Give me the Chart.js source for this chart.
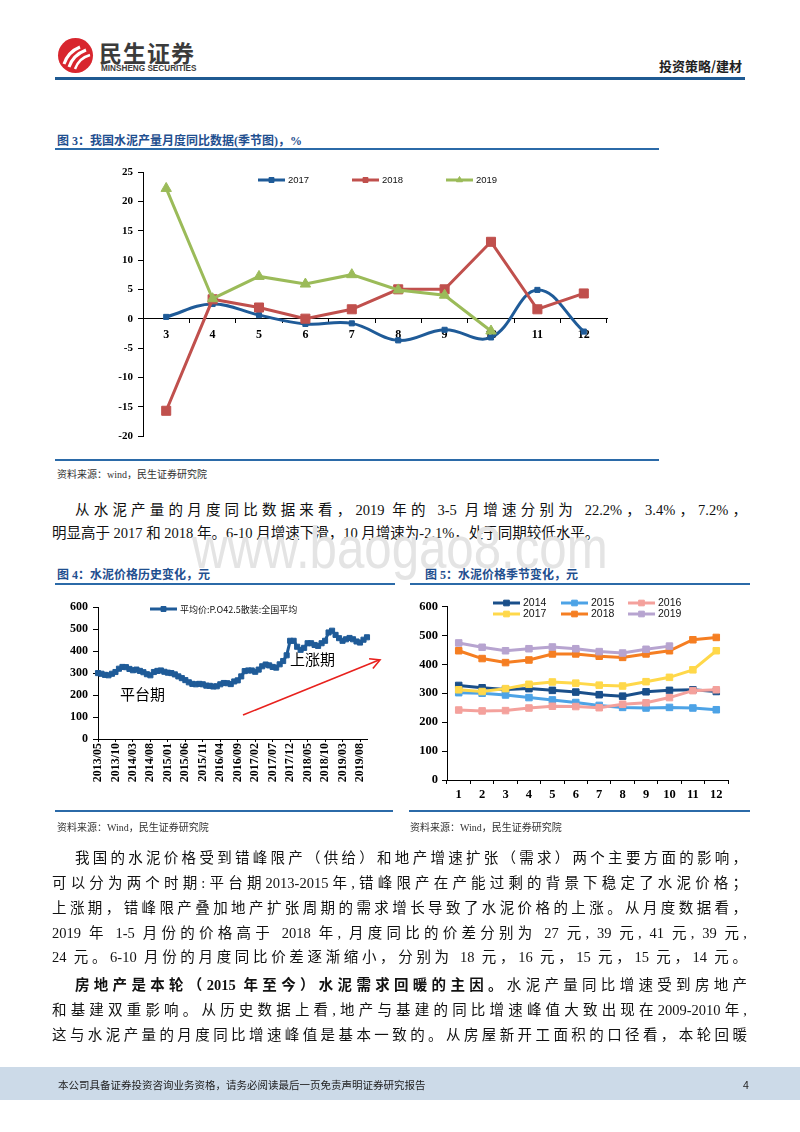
<!DOCTYPE html>
<html lang="zh">
<head>
<meta charset="UTF-8">
<title>水泥产量与价格</title>
<script src="https://cdn.jsdelivr.net/npm/chart.js"></script>
<style>
    body { margin: 0; background: #fff; }
    #page { position: relative; width: 800px; height: 1132px; overflow: hidden; background: #fff;
        font-family: "Liberation Serif", "Noto Sans CJK SC", serif; color: #111; }
    .abs { position: absolute; white-space: nowrap; }
    .rule { position: absolute; background: #2B6AA8; height: 1.5px; }
    .fig-title { position: absolute; font-size: 12px; font-weight: bold; color: #1F4F8F; line-height: 14px; white-space: nowrap; }
    .src { position: absolute; font-size: 10px; color: #333; line-height: 12px; white-space: nowrap; }
    .ln { position: absolute; font-size: 14.5px; line-height: 20px; text-align: justify; text-align-last: justify; white-space: normal; }
    .ln.last { text-align-last: left; }
    .box { position: absolute; }
</style>
</head>
<body>
<div id="page">
    <!-- header -->
    <svg class="abs" style="left:56px;top:36px" width="40" height="40" viewBox="0 0 40 40">
        <circle cx="19.5" cy="19.5" r="17.5" fill="#D8262E"/>
        <path d="M8,28 Q12,16 24,11" stroke="#fff" stroke-width="3" fill="none"/>
        <path d="M13,31 Q17,19 30,14" stroke="#fff" stroke-width="3" fill="none"/>
        <path d="M19,33 Q23,22 34,19" stroke="#fff" stroke-width="2.5" fill="none"/>
    </svg>
    <div class="abs" style="left:99px;top:38px;font:bold 23px 'Noto Sans CJK SC';color:#3b3b3b;letter-spacing:1px;line-height:28px">民生证券</div>
    <div class="abs" style="left:101px;top:64px;font:bold 8.2px 'Liberation Sans';color:#3b3b3b;line-height:10px">MINSHENG SECURITIES</div>
    <div class="abs" style="left:659px;top:58px;font:bold 13px 'Noto Sans CJK SC';color:#222;line-height:16px">投资策略/建材</div>
    <div class="rule" style="left:55px;top:77px;width:690px;height:2.5px;background:#1F5A92"></div>

    <!-- figure 3 -->
    <div class="fig-title" style="left:57px;top:134px">图 3：我国水泥产量月度同比数据(季节图)，%</div>
    <div class="rule" style="left:55px;top:148px;width:604px"></div>
    <div class="box" style="left:100px;top:160px;width:540px;height:290px"><canvas id="yoyChart" width="540" height="290"></canvas></div>
    <div class="rule" style="left:55px;top:459px;width:604px"></div>
    <div class="src" style="left:57px;top:469px">资料来源：wind，民生证券研究院</div>

    <div class="ln" style="left:75px;top:500px;width:672px">从水泥产量的月度同比数据来看，2019 年的 3-5 月增速分别为 22.2%，3.4%，7.2%，</div>
    <div class="ln last" style="left:52px;top:523px;width:695px">明显高于 2017 和 2018 年。6-10 月增速下滑，10 月增速为-2.1%，处于同期较低水平。</div>

    <!-- watermark -->
    <div class="abs" style="left:192px;top:517px;font:60px/62px 'Liberation Sans';color:#e4e4e4;transform:scaleX(0.82);transform-origin:left top;z-index:0">www.baogao8.com</div>

    <!-- figure 4 / 5 -->
    <div class="fig-title" style="left:57px;top:568px">图 4：水泥价格历史变化，元</div>
    <div class="fig-title" style="left:425px;top:568px">图 5：水泥价格季节变化，元</div>
    <div class="rule" style="left:55px;top:583px;width:340px"></div>
    <div class="rule" style="left:410px;top:583px;width:340px"></div>

    <div class="box" style="left:55px;top:595px;width:340px;height:215px"><canvas id="histChart" width="340" height="215"></canvas></div>
    <div class="abs" style="left:120px;top:685px;font:15px/18px 'Noto Sans CJK SC';color:#000">平台期</div>
    <div class="abs" style="left:290px;top:650px;font:15px/18px 'Noto Sans CJK SC';color:#000">上涨期</div>
    <svg class="abs" style="left:0;top:0" width="800" height="1132">
        <line x1="243" y1="715" x2="379" y2="660" stroke="#E8211D" stroke-width="1.6"/>
        <polyline points="369.1,658.8 380,660 372.9,668.4" stroke="#E8211D" stroke-width="1.6" fill="none"/>
    </svg>

    <div class="box" style="left:405px;top:595px;width:345px;height:215px"><canvas id="seasonChart" width="345" height="215"></canvas></div>

    <div class="rule" style="left:55px;top:810px;width:338px"></div>
    <div class="rule" style="left:409px;top:810px;width:341px"></div>
    <div class="src" style="left:57px;top:822px">资料来源：Wind，民生证券研究院</div>
    <div class="src" style="left:410px;top:822px">资料来源：Wind，民生证券研究院</div>

    <!-- body text -->
    <div class="ln" style="left:75px;top:848px;width:672px">我国的水泥价格受到错峰限产（供给）和地产增速扩张（需求）两个主要方面的影响，</div>
    <div class="ln" style="left:52px;top:873px;width:695px">可以分为两个时期:平台期2013-2015年,错峰限产在产能过剩的背景下稳定了水泥价格；</div>
    <div class="ln" style="left:52px;top:898px;width:695px">上涨期，错峰限产叠加地产扩张周期的需求增长导致了水泥价格的上涨。从月度数据看，</div>
    <div class="ln" style="left:52px;top:923px;width:695px">2019 年 1-5 月份的价格高于 2018 年, 月度同比的价差分别为 27 元, 39 元, 41 元, 39 元,</div>
    <div class="ln" style="left:52px;top:947px;width:695px">24 元。6-10 月份的月度同比价差逐渐缩小，分别为 18 元，16 元，15 元，15 元，14 元。</div>

    <div class="ln" style="left:75px;top:975px;width:672px"><b>房地产是本轮（2015 年至今）水泥需求回暖的主因。</b>水泥产量同比增速受到房地产</div>
    <div class="ln" style="left:52px;top:1000px;width:695px">和基建双重影响。从历史数据上看,地产与基建的同比增速峰值大致出现在2009-2010年,</div>
    <div class="ln" style="left:52px;top:1025px;width:695px">这与水泥产量的月度同比增速峰值是基本一致的。从房屋新开工面积的口径看，本轮回暖</div>

    <!-- footer -->
    <div class="abs" style="left:0;top:1067px;width:800px;height:33px;background:#CCDAE8"></div>
    <div class="abs" style="left:58px;top:1077px;font:10.5px/16px 'Noto Sans CJK SC';color:#222">本公司具备证券投资咨询业务资格，请务必阅读最后一页免责声明证券研究报告</div>
    <div class="abs" style="left:743px;top:1077px;font:10.5px/16px 'Liberation Sans';color:#222">4</div>
</div>

<script>
    // 图3 水泥产量月度同比 (%)
    const yoyMonths = ['3', '4', '5', '6', '7', '8', '9', '10', '11', '12'];
    const yoy2017 = [0.3, 2.5, 0.6, -0.9, -0.8, -3.7, -1.9, -3.2, 4.9, -2.2];
    const yoy2018 = [-15.7, 3.3, 1.9, 0.0, 1.6, 5.0, 5.0, 13.1, 1.6, 4.3];
    const yoy2019 = [22.2, 3.4, 7.2, 5.9, 7.5, 4.9, 4.0, -2.1];

    // 图4 P.O42.5散装 全国平均价 (元)
    const priceMonths = [
        '2013/05', '2013/06', '2013/07', '2013/08', '2013/09', '2013/10', '2013/11', '2013/12',
        '2014/01', '2014/02', '2014/03', '2014/04', '2014/05', '2014/06', '2014/07', '2014/08', '2014/09', '2014/10', '2014/11', '2014/12',
        '2015/01', '2015/02', '2015/03', '2015/04', '2015/05', '2015/06', '2015/07', '2015/08', '2015/09', '2015/10', '2015/11', '2015/12',
        '2016/01', '2016/02', '2016/03', '2016/04', '2016/05', '2016/06', '2016/07', '2016/08', '2016/09', '2016/10', '2016/11', '2016/12',
        '2017/01', '2017/02', '2017/03', '2017/04', '2017/05', '2017/06', '2017/07', '2017/08', '2017/09', '2017/10', '2017/11', '2017/12',
        '2018/01', '2018/02', '2018/03', '2018/04', '2018/05', '2018/06', '2018/07', '2018/08', '2018/09', '2018/10', '2018/11', '2018/12',
        '2019/01', '2019/02', '2019/03', '2019/04', '2019/05', '2019/06', '2019/07', '2019/08', '2019/09', '2019/10'
    ];
    const priceAvg = [
        300, 297, 292, 290, 297, 305, 320, 328,
        327, 319, 313, 316, 310, 304, 295, 290, 305, 310, 312, 306,
        302, 300, 294, 285, 277, 268, 258, 251, 249, 251, 249, 243,
        242, 239, 240, 249, 255, 254, 250, 262, 267, 285, 309, 312,
        312, 306, 316, 331, 339, 335, 328, 325, 340, 355, 381, 447,
        447, 420, 406, 415, 436, 436, 428, 424, 436, 447, 485, 493,
        474, 459, 447, 454, 460, 454, 444, 439, 452, 463
    ];
    const priceTickStep = 5;

    // 图5 水泥价格季节变化 (元)
    const seasonMonths = ['1', '2', '3', '4', '5', '6', '7', '8', '9', '10', '11', '12'];
    const p2014 = [327, 319, 313, 316, 310, 304, 295, 290, 305, 310, 312, 306];
    const p2015 = [302, 300, 294, 285, 277, 268, 258, 251, 249, 251, 249, 243];
    const p2016 = [242, 239, 240, 249, 255, 254, 250, 262, 267, 285, 309, 312];
    const p2017 = [312, 306, 316, 331, 339, 335, 328, 325, 340, 355, 381, 447];
    const p2018 = [447, 420, 406, 415, 436, 436, 428, 424, 436, 447, 485, 493];
    const p2019 = [474, 459, 447, 454, 460, 454, 444, 439, 452, 463];

    const axisFont = size => ({ family: 'Liberation Serif', size: size, weight: 'bold' });

    // 自定义图例：线段 + 标记 + 文字
    const lineLegend = {
        id: 'lineLegend',
        afterDraw(chart, args, opts) {
            const ctx = chart.ctx;
            ctx.save();
            ctx.font = opts.font;
            ctx.textBaseline = 'middle';
            chart.data.datasets.forEach((ds, i) => {
                const p = opts.slots[i];
                if (!p) return;
                ctx.strokeStyle = ds.borderColor;
                ctx.lineWidth = ds.borderWidth;
                ctx.beginPath();
                ctx.moveTo(p[0], p[1]);
                ctx.lineTo(p[0] + opts.lineLen, p[1]);
                ctx.stroke();
                ctx.fillStyle = ds.backgroundColor;
                ctx.lineWidth = 1;
                Chart.helpers.drawPoint(ctx, { pointStyle: ds.pointStyle, radius: opts.radius || ds.pointRadius, borderWidth: 1, rotation: 0 },
                    p[0] + opts.lineLen / 2, p[1]);
                ctx.fillStyle = '#111';
                ctx.fillText(ds.label, p[0] + opts.lineLen + 3, p[1] + 0.5);
            });
            ctx.restore();
        }
    };

    function lineSet(label, data, color, style, radius, extra) {
        return Object.assign({
            label: label, data: data,
            borderColor: color, backgroundColor: color,
            borderWidth: 3, pointStyle: style, pointRadius: radius,
            pointBorderWidth: 1, tension: 0, fill: false
        }, extra || {});
    }

    // 图3
    new Chart(document.getElementById('yoyChart'), {
        type: 'line',
        data: {
            labels: yoyMonths,
            datasets: [
                lineSet('2017', yoy2017, '#1F5B98', 'rect', 3.6, { tension: 0.4, order: 3 }),
                lineSet('2018', yoy2018, '#C0504D', 'rect', 6.4, { order: 2 }),
                lineSet('2019', yoy2019, '#9BBB59', 'triangle', 6, { order: 1 })
            ]
        },
        plugins: [lineLegend],
        options: {
            responsive: false, animation: false,
            layout: { padding: { left: 0, right: 33, top: 12, bottom: 14 } },
            plugins: {
                legend: { display: false }, tooltip: { enabled: false },
                lineLegend: { font: '9.5px "Liberation Sans"', lineLen: 27, radius: 3.5, slots: [[158, 20], [252, 20], [346, 20]] }
            },
            scales: {
                x: {
                    position: { y: 0 }, offset: true,
                    grid: { drawOnChartArea: false, offset: true, tickLength: 4, color: '#000' },
                    border: { color: '#000', width: 1 },
                    ticks: { font: axisFont(12), color: '#000', padding: 5, maxRotation: 0 }
                },
                y: {
                    min: -20, max: 25,
                    afterFit: s => { s.width = 43; },
                    grid: { drawOnChartArea: false, tickLength: 5, color: '#000' },
                    border: { color: '#000', width: 1 },
                    ticks: { stepSize: 5, font: axisFont(11), color: '#000', padding: 5 }
                }
            }
        }
    });

    // 图4
    new Chart(document.getElementById('histChart'), {
        type: 'line',
        data: {
            labels: priceMonths,
            datasets: [lineSet('平均价:P.O42.5散装:全国平均', priceAvg, '#1F5B98', 'rect', 3.6)]
        },
        plugins: [lineLegend],
        options: {
            responsive: false, animation: false,
            layout: { padding: { left: 0, right: 28, top: 9, bottom: 0 } },
            plugins: {
                legend: { display: false }, tooltip: { enabled: false },
                lineLegend: { font: '9px "Noto Sans CJK SC"', lineLen: 27, radius: 3.5, slots: [[95, 14]] }
            },
            scales: {
                x: {
                    offset: false,
                    afterFit: s => { s.height = 71; },
                    grid: {
                        drawOnChartArea: false, tickLength: 3,
                        color: c => (c.index % priceTickStep === 0 ? '#000' : 'rgba(0,0,0,0)')
                    },
                    border: { color: '#000', width: 1 },
                    ticks: {
                        autoSkip: false, minRotation: 90, maxRotation: 90, padding: 1,
                        font: axisFont(12), color: '#000',
                        callback: (v, i) => (i % priceTickStep === 0 ? priceMonths[i] : '')
                    }
                },
                y: {
                    min: 0, max: 600,
                    afterFit: s => { s.width = 43; },
                    grid: { drawOnChartArea: false, tickLength: 5, color: '#000' },
                    border: { color: '#000', width: 1 },
                    ticks: { stepSize: 100, font: axisFont(12), color: '#000', padding: 5 }
                }
            }
        }
    });

    // 图5
    new Chart(document.getElementById('seasonChart'), {
        type: 'line',
        data: {
            labels: seasonMonths,
            datasets: [
                lineSet('2014', p2014, '#1A4F8A', 'rect', 4.6, { order: 6 }),
                lineSet('2015', p2015, '#4DA3E6', 'rect', 4.6, { order: 5 }),
                lineSet('2016', p2016, '#F4A19C', 'rect', 4.6, { order: 4 }),
                lineSet('2017', p2017, '#FFD84A', 'rect', 4.6, { order: 3 }),
                lineSet('2018', p2018, '#F57E22', 'rect', 4.6, { order: 2 }),
                lineSet('2019', p2019, '#B7A4D0', 'rect', 4.6, { order: 1 })
            ]
        },
        plugins: [lineLegend],
        options: {
            responsive: false, animation: false,
            layout: { padding: { left: 0, right: 22, top: 10, bottom: 0 } },
            plugins: {
                legend: { display: false }, tooltip: { enabled: false },
                lineLegend: {
                    font: '10.5px "Liberation Sans"', lineLen: 27, radius: 4,
                    slots: [[88, 8], [156, 8], [223, 8], [88, 19], [156, 19], [223, 19]]
                }
            },
            scales: {
                x: {
                    offset: true,
                    afterFit: s => { s.height = 30; },
                    grid: { drawOnChartArea: false, offset: true, tickLength: 4, color: '#000' },
                    border: { color: '#000', width: 1 },
                    ticks: { font: axisFont(12.5), color: '#000', padding: 3, maxRotation: 0 }
                },
                y: {
                    min: 0, max: 600,
                    afterFit: s => { s.width = 42; },
                    grid: { drawOnChartArea: false, tickLength: 5, color: '#000' },
                    border: { color: '#000', width: 1 },
                    ticks: { stepSize: 100, font: axisFont(12.5), color: '#000', padding: 4 }
                }
            }
        }
    });
</script>
</body>
</html>
